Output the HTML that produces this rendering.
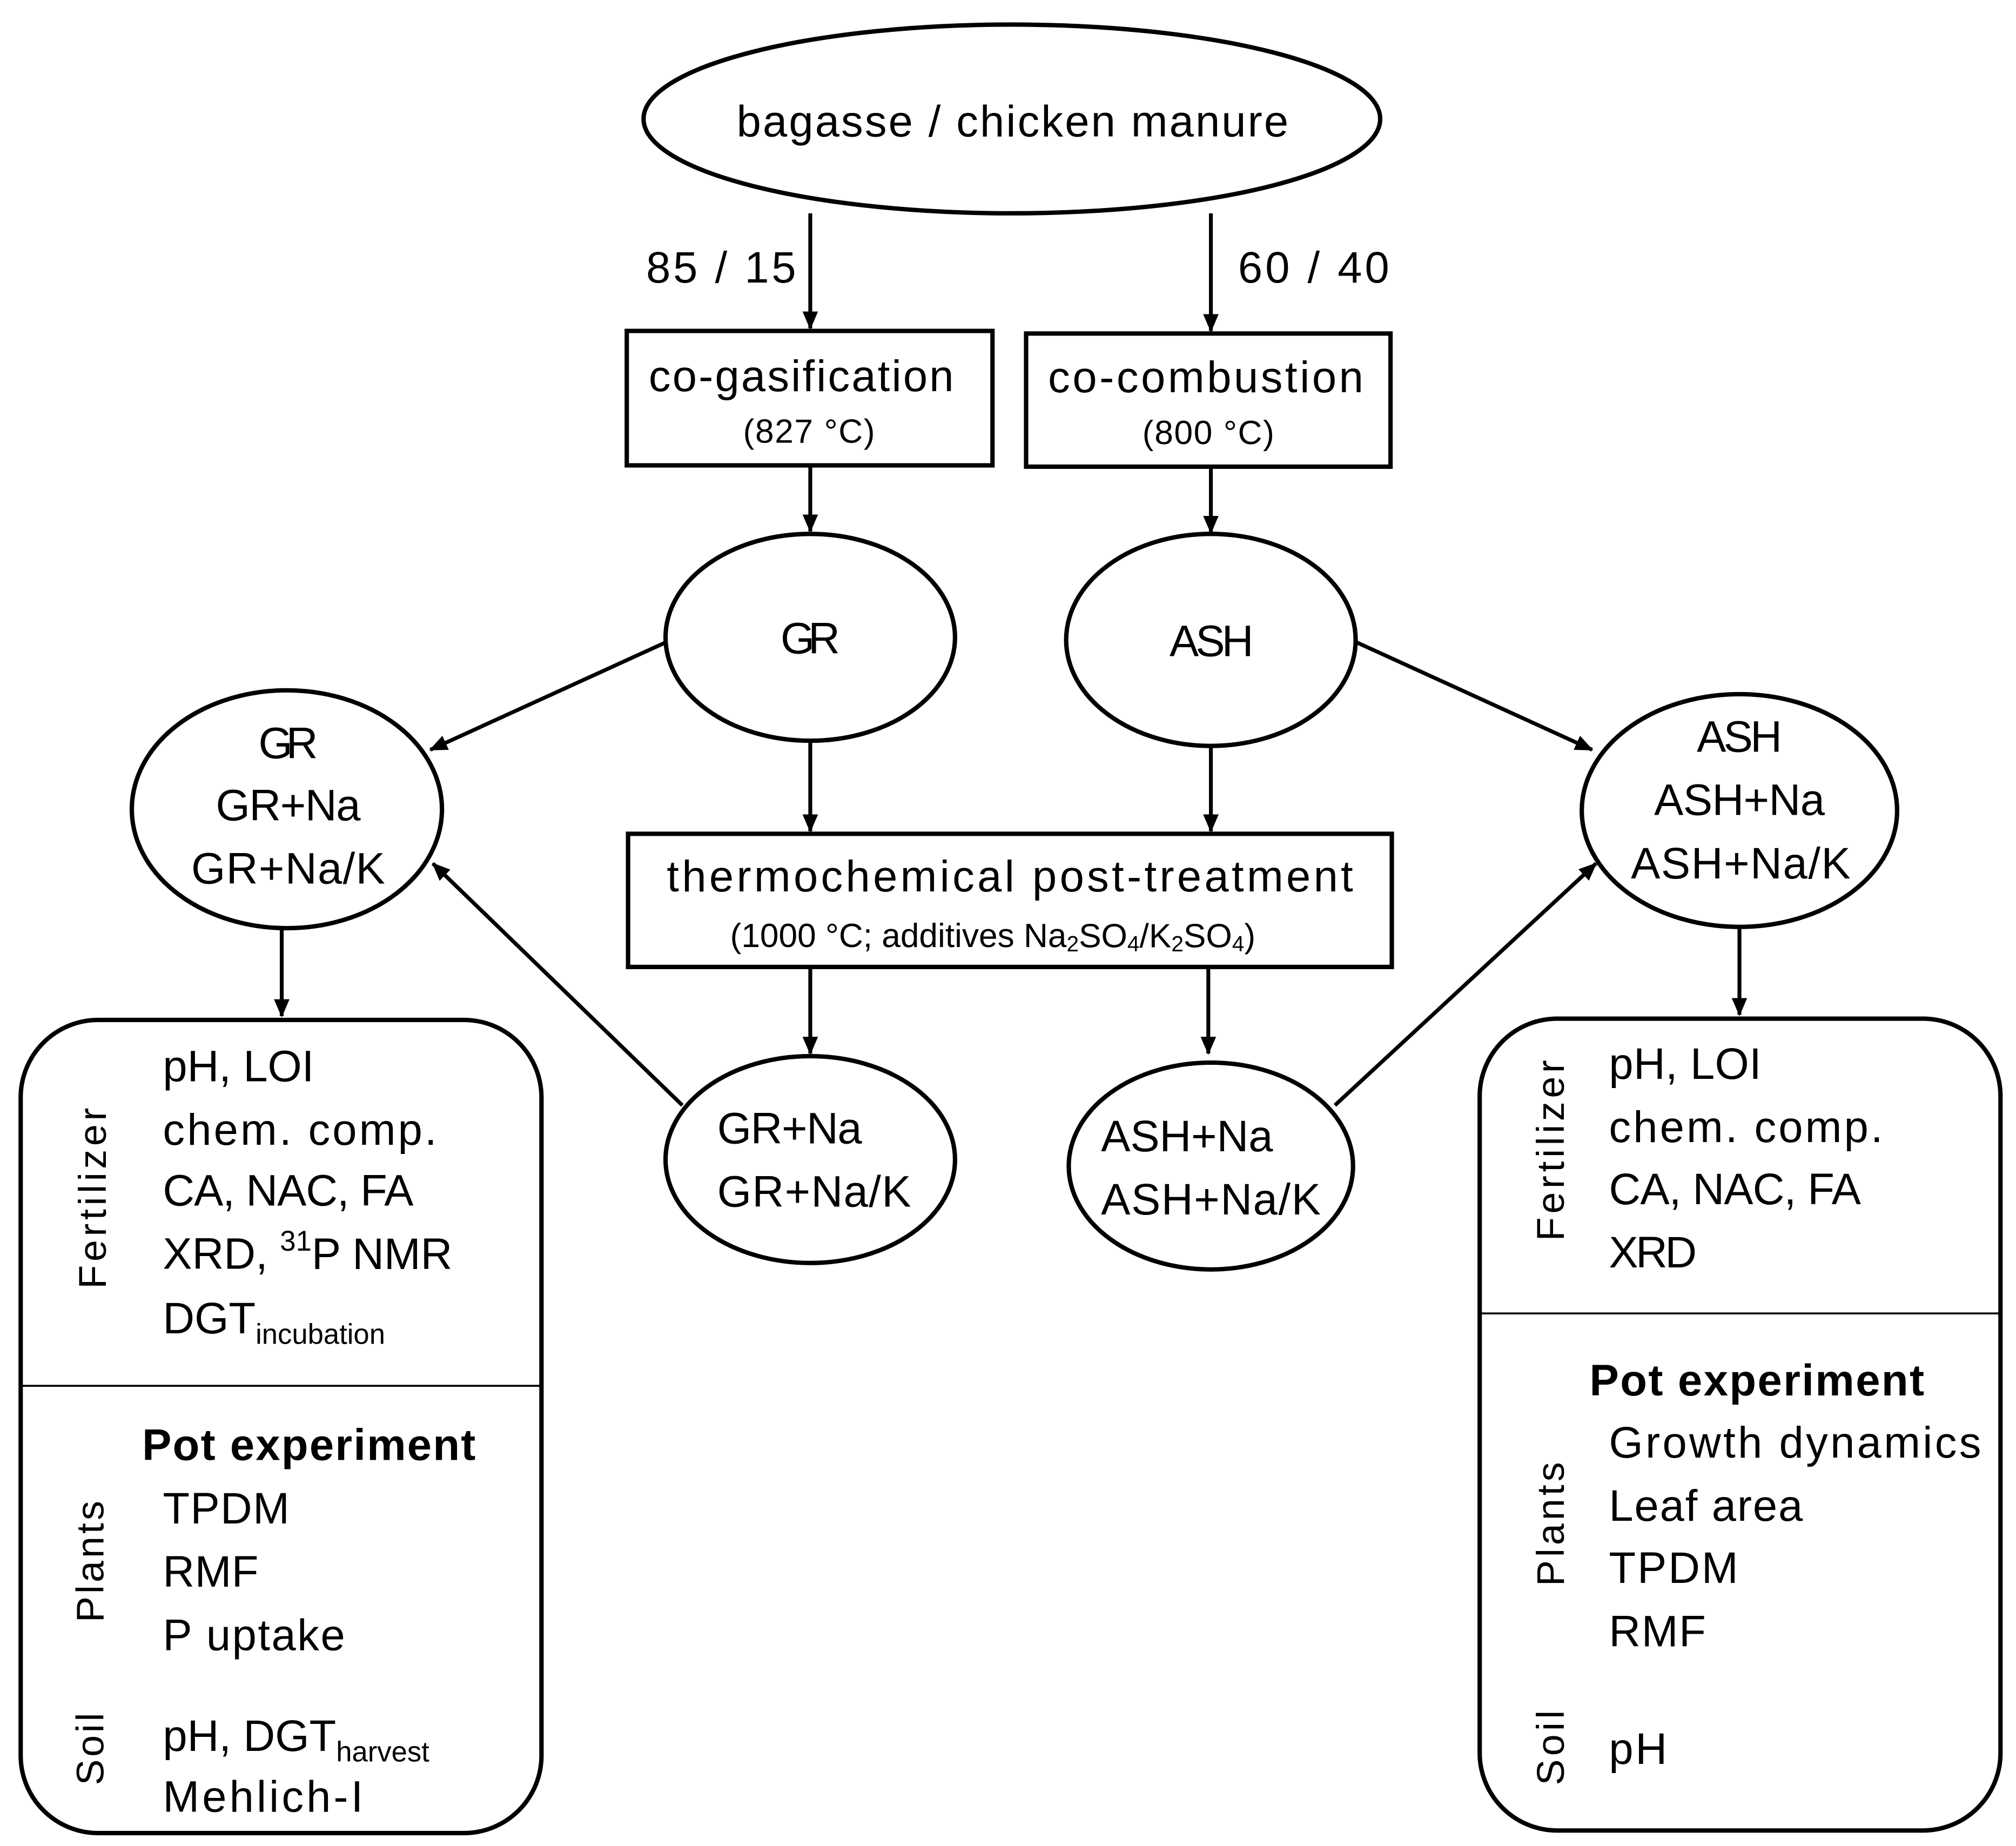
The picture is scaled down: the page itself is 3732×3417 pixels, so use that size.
<!DOCTYPE html>
<html><head><meta charset="utf-8"><style>
html,body{margin:0;padding:0;background:#fff;}
svg{display:block;}
text{font-family:"Liberation Sans Narrow","Liberation Sans",sans-serif;fill:#000;dominant-baseline:central;}
.v{font-family:"DejaVu Sans","Liberation Sans",sans-serif;font-size:30px;}
</style></head><body>
<svg width="3732" height="3417" viewBox="0 0 1560 1428" preserveAspectRatio="none" xmlns="http://www.w3.org/2000/svg">
<defs><marker id="a" markerWidth="14" markerHeight="12" refX="13" refY="6" orient="auto" markerUnits="userSpaceOnUse"><path d="M0,0 L14,6 L0,12 z" fill="#000"/></marker></defs>
<g fill="none" stroke="#000" stroke-width="3.4">
<ellipse cx="783" cy="92" rx="285" ry="73"/>
<rect x="485" y="256" width="283" height="104"/>
<rect x="794" y="258" width="282" height="103"/>
<ellipse cx="627" cy="493" rx="112" ry="80"/>
<ellipse cx="937" cy="495" rx="112" ry="82"/>
<ellipse cx="222" cy="626" rx="120" ry="92"/>
<ellipse cx="1346" cy="627" rx="122" ry="90"/>
<rect x="486" y="645" width="591" height="103"/>
<ellipse cx="627" cy="897" rx="112" ry="80"/>
<ellipse cx="937" cy="902" rx="110" ry="80"/>
<rect x="16" y="789" width="403" height="629" rx="60"/>
<rect x="1145" y="788" width="403" height="628" rx="60"/>
</g>
<g stroke="#000" stroke-width="1.5"><line x1="16" y1="1072" x2="419" y2="1072"/><line x1="1145" y1="1016" x2="1548" y2="1016"/></g>
<g stroke="#000" stroke-width="3" marker-end="url(#a)">
<line x1="627" y1="165" x2="627" y2="254"/>
<line x1="937" y1="165" x2="937" y2="256"/>
<line x1="627" y1="360" x2="627" y2="411"/>
<line x1="937" y1="361" x2="937" y2="412"/>
<line x1="515" y1="497" x2="333" y2="580"/>
<line x1="1050" y1="497" x2="1232" y2="580"/>
<line x1="627" y1="573" x2="627" y2="643"/>
<line x1="937" y1="577" x2="937" y2="643"/>
<line x1="627" y1="748" x2="627" y2="815"/>
<line x1="935" y1="748" x2="935" y2="815"/>
<line x1="528" y1="855" x2="335" y2="668"/>
<line x1="1033" y1="855" x2="1235" y2="668"/>
<line x1="218" y1="718" x2="218" y2="786"/>
<line x1="1346" y1="717" x2="1346" y2="785"/>
</g>
<g font-size="34" lengthAdjust="spacingAndGlyphs">
<text x="570" y="94" textLength="427">bagasse / chicken manure</text>
<text x="500" y="207" textLength="116">85 / 15</text>
<text x="958" y="207" textLength="117">60 / 40</text>
<text x="502" y="291" textLength="236">co-gasification</text>
<text x="575" y="334" font-size="26" textLength="102">(827 °C)</text>
<text x="811" y="292" textLength="244">co-combustion</text>
<text x="884" y="335" font-size="26" textLength="102">(800 °C)</text>
<text x="604" y="494" textLength="46">GR</text>
<text x="905" y="496" textLength="65">ASH</text>
<text x="200" y="575" textLength="46">GR</text>
<text x="167" y="623" textLength="112">GR+Na</text>
<text x="148" y="672" textLength="150">GR+Na/K</text>
<text x="1313" y="570" textLength="66">ASH</text>
<text x="1280" y="619" textLength="132">ASH+Na</text>
<text x="1262" y="668" textLength="170">ASH+Na/K</text>
<text x="516" y="678" textLength="531">thermochemical post-treatment</text>
<text x="565" y="724" font-size="26">(1000 °C; additives Na<tspan font-size="17" dy="6">2</tspan><tspan dy="-6">SO</tspan><tspan font-size="17" dy="6">4</tspan><tspan dy="-6">/K</tspan><tspan font-size="17" dy="6">2</tspan><tspan dy="-6">SO</tspan><tspan font-size="17" dy="6">4</tspan><tspan dy="-6">)</tspan></text>
<text x="555" y="873" textLength="112">GR+Na</text>
<text x="555" y="922" textLength="150">GR+Na/K</text>
<text x="852" y="879" textLength="133">ASH+Na</text>
<text x="852" y="928" textLength="170">ASH+Na/K</text>

<text x="126" y="825" textLength="117">pH, LOI</text>
<text x="126" y="874" textLength="212">chem. comp.</text>
<text x="126" y="921" textLength="194">CA, NAC, FA</text>
<text x="126" y="970">XRD, <tspan font-size="22" dy="-10">31</tspan><tspan dy="10">P NMR</tspan></text>
<text x="126" y="1020">DGT<tspan font-size="22" dy="12">incubation</tspan></text>
<text x="110" y="1118" font-weight="bold" textLength="258">Pot experiment</text>
<text x="126" y="1167" textLength="98">TPDM</text>
<text x="126" y="1216" textLength="74">RMF</text>
<text x="126" y="1265" textLength="141">P uptake</text>
<text x="126" y="1343">pH, DGT<tspan font-size="22" dy="12">harvest</tspan></text>
<text x="126" y="1390" textLength="155">Mehlich-I</text>

<text x="1245" y="823" textLength="118">pH, LOI</text>
<text x="1245" y="872" textLength="212">chem. comp.</text>
<text x="1245" y="920" textLength="195">CA, NAC, FA</text>
<text x="1245" y="969" textLength="68">XRD</text>
<text x="1230" y="1068" font-weight="bold" textLength="259">Pot experiment</text>
<text x="1245" y="1116" textLength="288">Growth dynamics</text>
<text x="1245" y="1165" textLength="150">Leaf area</text>
<text x="1245" y="1213" textLength="100">TPDM</text>
<text x="1245" y="1262" textLength="75">RMF</text>
<text x="1245" y="1353" textLength="45">pH</text>
</g>
<g class="v" lengthAdjust="spacingAndGlyphs" text-anchor="middle">
<text transform="translate(72,927) rotate(-90)" textLength="140">Fertilizer</text>
<text transform="translate(70,1208) rotate(-90)" textLength="94">Plants</text>
<text transform="translate(70,1353) rotate(-90)" textLength="56">Soil</text>
<text transform="translate(1200,890) rotate(-90)" textLength="140">Fertilizer</text>
<text transform="translate(1200,1179) rotate(-90)" textLength="96">Plants</text>
<text transform="translate(1200,1352) rotate(-90)" textLength="58">Soil</text>
</g>
</svg>
</body></html>
